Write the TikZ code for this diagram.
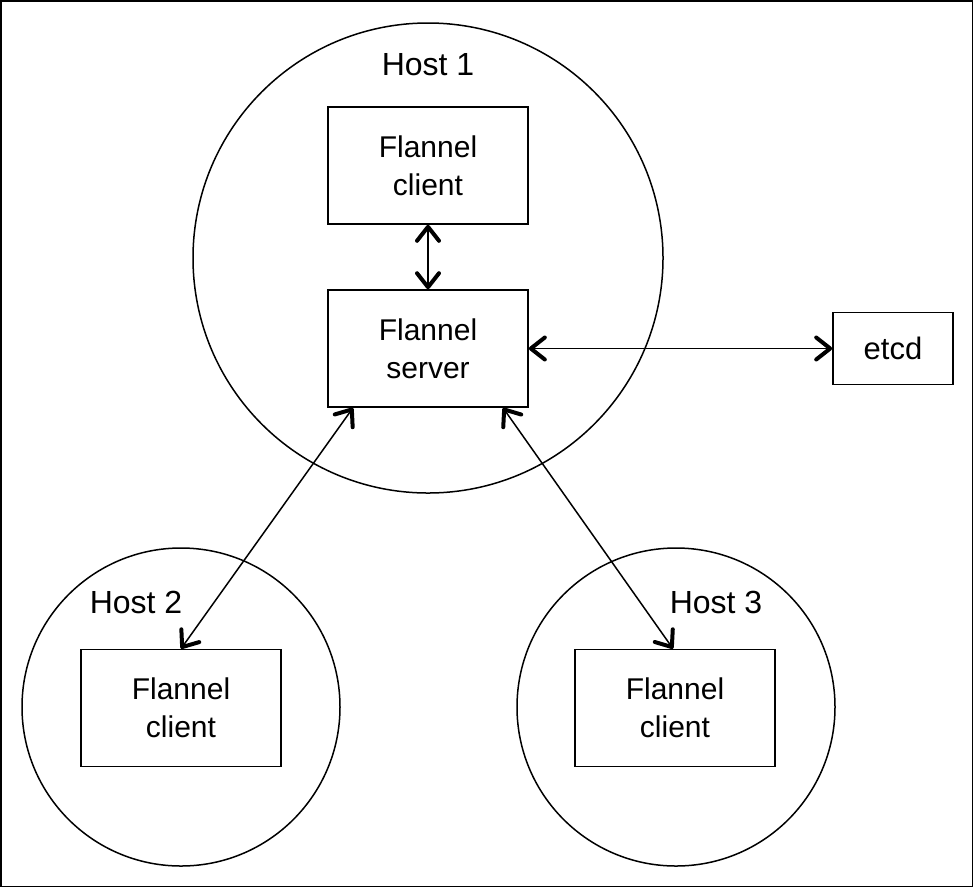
\documentclass[tikz,border=0pt]{standalone}
\usepackage{fontspec}
\setmainfont{Liberation Sans}
\usetikzlibrary{arrows.meta}
\begin{document}
\begin{tikzpicture}[x=1pt,y=-1pt,
  box/.style={draw,line width=1.6pt,minimum width=200pt,minimum height=117pt,inner sep=0pt,align=center,font=\fontsize{30}{38}\selectfont},
  host/.style={draw,circle,line width=1.5pt,inner sep=0pt},
  lbl/.style={font=\fontsize{32}{38}\selectfont,inner sep=0pt,anchor=base},
  barb/.tip={Straight Barb[length=14pt,width=22pt,line width=4pt,round]},
  link/.style={line width=1.5pt,barb-barb}]
\useasboundingbox (0,0) rectangle (973,887);
\draw[line width=1.5pt] (0.75,0.75) rectangle (972.25,886.25);
% hosts
\node[host,minimum size=470pt] (h1) at (428,258) {};
\node[host,minimum size=318pt] (h2) at (181,707) {};
\node[host,minimum size=318pt] (h3) at (676,707) {};
\node[lbl] (l1) at (428,75) {Host 1};
\node[lbl] (l2) at (136,613) {Host 2};
\node[lbl] (l3) at (716,613) {Host 3};
% boxes
\node[box] (c1) at (428,165.5) {Flannel\\client};
\node[box] (s1) at (428,348.5) {Flannel\\server};
\node[box] (c2) at (181,708) {Flannel\\client};
\node[box] (c3) at (675,708) {Flannel\\client};
\node[box,minimum width=120pt,minimum height=72pt,font=\fontsize{31}{38}\selectfont] (etcd) at (893,348.5) {etcd};
% links
\draw[link] (c1.south) -- (s1.north);
\draw[link] (s1.east) -- (etcd.west);
\draw[link] ([xshift=-75pt]s1.south) -- (c2.north);
\draw[link] ([xshift=75pt]s1.south) -- ([xshift=-2pt]c3.north);
\end{tikzpicture}
\end{document}
